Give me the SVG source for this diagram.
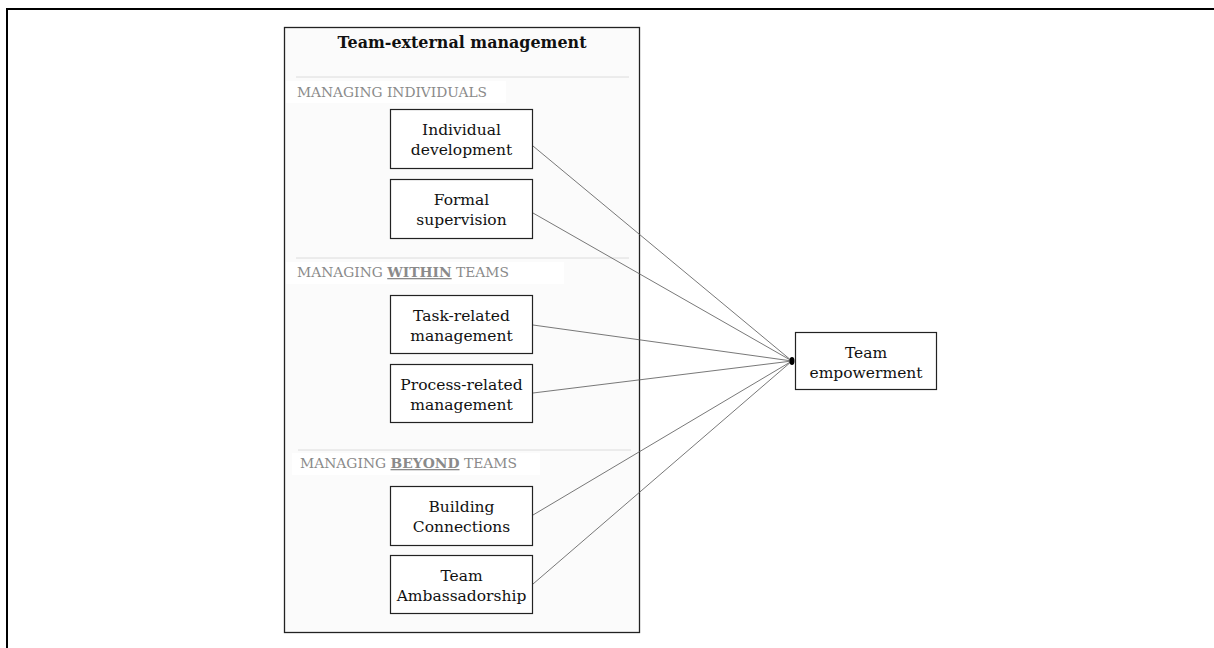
<svg xmlns="http://www.w3.org/2000/svg" width="1214" height="648" viewBox="0 0 1214 648">
<style>
.box{fill:#fff;stroke:#222;stroke-width:1.2}
.t{font-family:"DejaVu Serif","Liberation Serif",serif;font-size:15.5px;fill:#111;text-anchor:middle}
.title{font-family:"DejaVu Serif","Liberation Serif",serif;font-size:17px;font-weight:bold;fill:#111;text-anchor:middle}
.lab{font-family:"DejaVu Serif","Liberation Serif",serif;font-size:13px;fill:#8a8a8a}
.labb{font-weight:bold;text-decoration:underline}
.sep{stroke:#dcdcdc;stroke-width:1}
.conn{stroke:#555;stroke-width:0.8;fill:none}
</style>
<rect width="1214" height="648" fill="#fff"/>
<path d="M7 648 V9 H1214" fill="none" stroke="#000" stroke-width="2"/>
<g id="container">
<rect x="284.5" y="27.5" width="355" height="605" fill="#fbfbfb" stroke="#222" stroke-width="1.3"/>
<text class="title" x="462" y="48" textLength="249" lengthAdjust="spacingAndGlyphs">Team-external management</text>
<line class="sep" x1="296" y1="77" x2="629" y2="77"/>
<rect x="286" y="81" width="220" height="22" fill="#fff"/>
<text class="lab" x="297" y="97" textLength="190" lengthAdjust="spacingAndGlyphs">MANAGING INDIVIDUALS</text>
<line class="sep" x1="296" y1="258" x2="629" y2="258"/>
<rect x="286" y="262" width="278" height="22" fill="#fff"/>
<text class="lab" x="297" y="277" textLength="212" lengthAdjust="spacingAndGlyphs">MANAGING <tspan class="labb">WITHIN</tspan> TEAMS</text>
<line class="sep" x1="298" y1="450" x2="631" y2="450"/>
<rect x="292" y="453" width="248" height="22" fill="#fff"/>
<text class="lab" x="300" y="468" textLength="217" lengthAdjust="spacingAndGlyphs">MANAGING <tspan class="labb">BEYOND</tspan> TEAMS</text>
</g>
<g id="connectors">
<line class="conn" x1="533" y1="146" x2="792" y2="361"/>
<line class="conn" x1="533" y1="213" x2="792" y2="361"/>
<line class="conn" x1="533" y1="325" x2="792" y2="361"/>
<line class="conn" x1="533" y1="393" x2="792" y2="361"/>
<line class="conn" x1="533" y1="515" x2="792" y2="361"/>
<line class="conn" x1="533" y1="584" x2="792" y2="361"/>
<ellipse cx="792" cy="361" rx="2.5" ry="4" fill="#000"/>
</g>
<g id="n-individual">
<rect class="box" x="390.5" y="109.5" width="142" height="59"/>
<text class="t" x="461.5" y="135">Individual</text>
<text class="t" x="461.5" y="155">development</text>
</g>
<g id="n-formal">
<rect class="box" x="390.5" y="179.5" width="142" height="59"/>
<text class="t" x="461.5" y="205">Formal</text>
<text class="t" x="461.5" y="225">supervision</text>
</g>
<g id="n-task">
<rect class="box" x="390.5" y="295.5" width="142" height="58"/>
<text class="t" x="461.5" y="321">Task-related</text>
<text class="t" x="461.5" y="341">management</text>
</g>
<g id="n-process">
<rect class="box" x="390.5" y="364.5" width="142" height="58"/>
<text class="t" x="461.5" y="390">Process-related</text>
<text class="t" x="461.5" y="410">management</text>
</g>
<g id="n-building">
<rect class="box" x="390.5" y="486.5" width="142" height="59"/>
<text class="t" x="461.5" y="512">Building</text>
<text class="t" x="461.5" y="532">Connections</text>
</g>
<g id="n-ambassador">
<rect class="box" x="390.5" y="555.5" width="142" height="58"/>
<text class="t" x="461.5" y="581">Team</text>
<text class="t" x="461.5" y="601">Ambassadorship</text>
</g>
<g id="n-empowerment">
<rect class="box" x="795.5" y="332.5" width="141" height="57"/>
<text class="t" x="866" y="358">Team</text>
<text class="t" x="866" y="378">empowerment</text>
</g>
</svg>
